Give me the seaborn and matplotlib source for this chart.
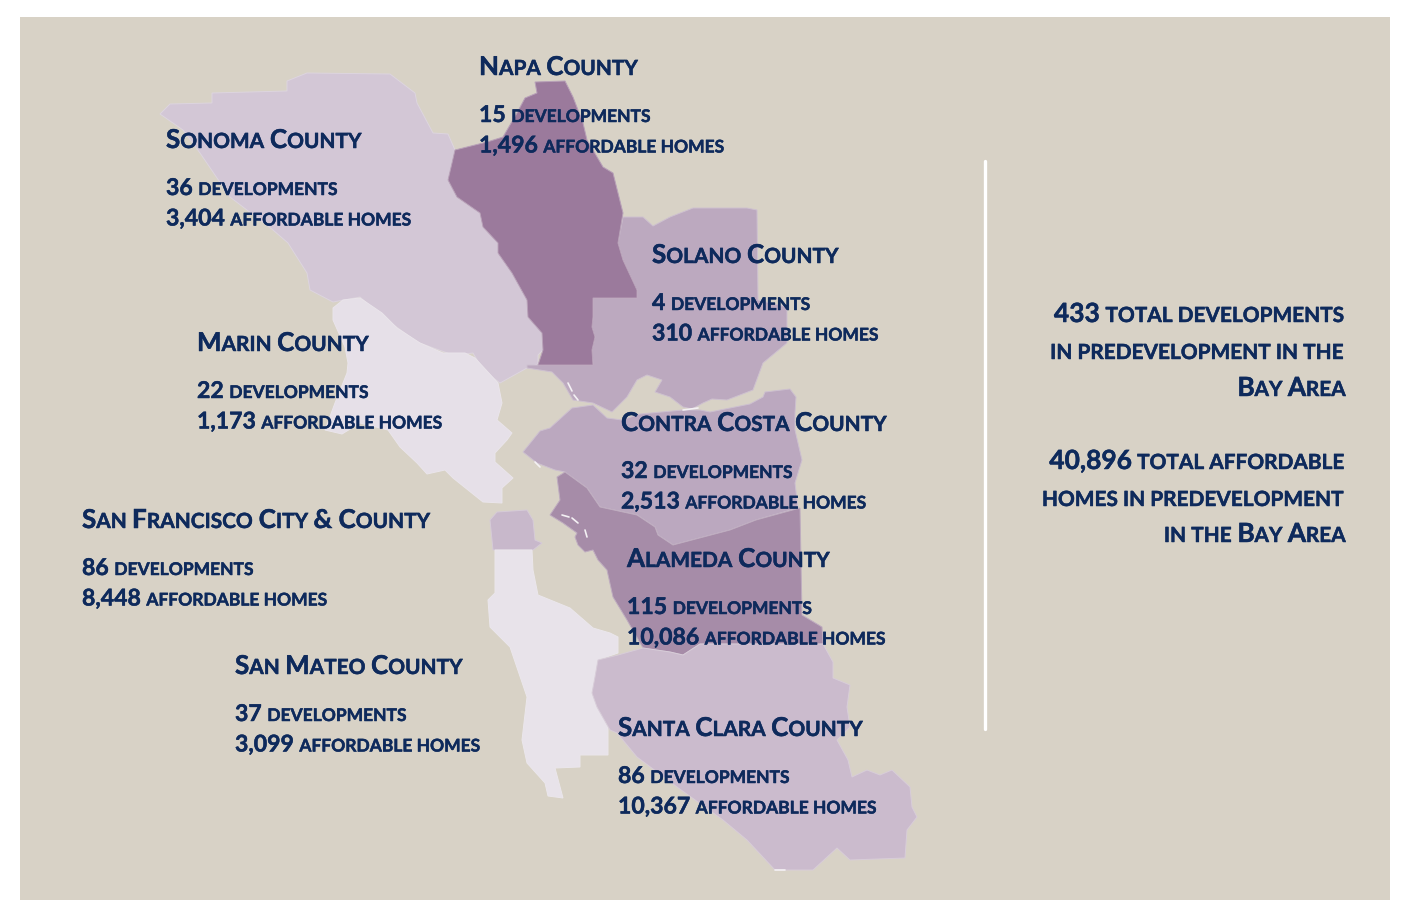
import matplotlib
matplotlib.use("Agg")
import matplotlib.pyplot as plt
import matplotlib.patheffects as pe
import seaborn as sns
import pandas as pd

# county numbers
counties = ["Napa County", "Sonoma County", "Solano County", "Marin County", "Contra Costa County",
            "San Francisco City & County", "Alameda County", "San Mateo County", "Santa Clara County"]
developments = ["15", "36", "4", "22", "32", "86", "115", "37", "86"]
homes = ["1,496", "3,404", "310", "1,173", "2,513", "8,448", "10,086", "3,099", "10,367"]

summary_lines = ["433 total developments", "in predevelopment in the", "Bay Area",
                 "40,896 total affordable", "homes in predevelopment", "in the Bay Area"]

# county outlines in pixels
sonoma = [(160,114),(170,104),(212,103),(212,93),(287,91),(287,81),(307,73),(390,74),(415,93),(417,103),
          (433,133),(448,134),(455,150),(452,163),(448,180),(457,197),(480,213),(483,227),(498,243),(498,253),
          (512,273),(527,300),(528,317),(542,333),(543,350),(538,355),(538,364),(527,368),(500,383),(483,370),
          (473,353),(453,355),(417,342),(383,317),(360,297),(333,302),(310,290),(307,273),(288,243),(273,230),
          (230,197),(200,153),(183,130)]
napa = [(535,82),(565,81),(573,97),(583,123),(587,140),(603,167),(613,173),(623,213),(618,243),(623,260),
        (637,290),(637,298),(593,298),(593,317),(592,327),(595,337),(592,350),(593,365),(538,365),(543,350),
        (542,333),(528,317),(527,300),(512,273),(498,253),(498,243),(483,227),(480,213),(457,197),(448,180),
        (452,163),(455,150),(487,142),(503,137),(517,113),(525,98),(537,93)]
solano = [(623,217),(643,217),(653,226),(670,217),(693,208),(747,208),(757,210),(758,300),(787,307),(787,343),
          (763,363),(753,390),(727,400),(712,399),(703,403),(692,409),(683,407),(670,397),(655,392),(662,380),
          (647,375),(637,380),(627,397),(612,412),(593,403),(573,400),(563,383),(552,372),(527,368),(527,365),
          (593,365),(592,350),(595,337),(592,327),(593,317),(593,298),(637,298),(637,290),(623,260),(618,243)]
marin = [(333,308),(343,300),(360,298),(382,313),(397,328),(420,343),(443,353),(465,353),(475,358),(498,383),
         (502,403),(497,420),(512,433),(507,440),(495,453),(495,462),(513,478),(502,488),(502,503),(483,502),
         (453,478),(445,470),(427,474),(417,463),(400,447),(388,430),(360,423),(342,434),(325,430),(335,403),
         (347,373),(348,363),(345,347),(333,320)]
contra_costa = [(523,452),(540,431),(550,428),(572,408),(593,405),(607,418),(622,420),(640,414),(683,410),(700,410),
                (710,412),(730,408),(750,404),(763,397),(765,392),(790,389),(796,397),(795,413),(795,430),(802,460),
                (795,483),(798,508),(756,520),(730,530),(673,545),(658,535),(655,527),(637,515),(600,507),(587,488),
                (565,472),(555,470),(537,463)]
alameda = [(565,472),(587,488),(600,507),(637,515),(655,527),(658,535),(673,545),(730,530),(756,520),(800,508),
           (802,615),(822,627),(823,644),(700,644),(683,655),(670,652),(643,648),(627,620),(613,597),(607,570),
           (598,560),(593,550),(585,552),(578,545),(575,537),(577,533),(563,523),(550,515),(560,500),(557,477)]
san_francisco = [(490,520),(497,512),(527,510),(533,520),(535,540),(542,543),(533,550),(493,550)]
san_mateo = [(495,550),(532,550),(533,570),(538,595),(570,608),(593,628),(610,633),(618,637),(618,653),(598,660),
             (595,677),(592,693),(608,727),(608,755),(580,755),(580,767),(555,768),(563,798),(548,796),(545,783),
             (527,763),(522,740),(527,697),(510,647),(490,627),(488,600),(495,593)]
santa_clara = [(598,660),(618,655),(643,648),(670,652),(683,655),(700,644),(823,644),(833,662),(833,678),(850,685),
               (847,707),(850,727),(837,740),(848,760),(852,777),(867,770),(880,775),(892,770),(910,787),(912,807),
               (917,817),(907,830),(905,858),(850,860),(837,848),(813,870),(775,870),(747,840),(723,820),(677,787),
               (637,757),(617,733),(610,730),(597,707),(592,693),(595,677)]

# little white slivers in the scanned map
slivers = [[(568,383),(572,391)], [(574,395),(578,400)], [(683,410),(698,408)], [(535,462),(540,467)],
           [(562,515),(569,517)], [(572,518),(578,523)], [(585,530),(587,537)], [(775,870),(785,870)]]

shapes = [(sonoma, "#d3c7d6"), (solano, "#bca9bf"), (napa, "#9b7a9c"), (marin, "#e6e0e8"),
          (contra_costa, "#bba8bf"), (alameda, "#a68ca8"), (san_francisco, "#c8b8cb"),
          (san_mateo, "#e8e3ea"), (santa_clara, "#cbbbcd")]

# left edge and title baseline of each county block
block_x = [479, 166, 652, 197, 621, 82, 627, 235, 618]
block_y = [75, 148, 263, 351, 431, 528, 567, 674, 736]
summary_y = [322, 359, 396, 469, 506, 542]

NAVY = "#0e2a5c"
FONT = "Lato"
TITLE = (18.7, 15.0)
LINE = (16.6, 12.55)
SUMMARY = (19.0, 15.0)

sns.set_theme(style="white")
plt.rcParams["font.family"] = [FONT, "DejaVu Sans"]
plt.rcParams["text.hinting"] = "no_hinting"
plt.rcParams["text.hinting_factor"] = 1

fig = plt.figure(figsize=(14.02, 9.2), dpi=100, facecolor="white")
ax = fig.add_axes([0, 0, 1, 1])
ax.set_xlim(0, 1402)
ax.set_ylim(919, -1)
ax.axis("off")
ax.add_patch(plt.Rectangle((20, 17), 1370, 883, color="#d8d2c6", lw=0, zorder=0))

# Lato bold is lighter than the original face, thicken it a little
heavier = [pe.withStroke(linewidth=0.35, foreground=NAVY)]


def measure(text, size):
    # the bar keeps trailing spaces in the measured width
    t = ax.text(0, 0, text + "|", fontsize=size, fontweight="bold")
    bar = ax.text(0, 0, "|", fontsize=size, fontweight="bold")
    r = fig.canvas.get_renderer()
    w = t.get_window_extent(r).width - bar.get_window_extent(r).width
    t.remove()
    bar.remove()
    return w


def split_runs(text):
    # fake small caps: lower case goes up a case at the smaller size
    runs = []
    for ch in text:
        small = ch.islower() or (ch == " " and runs and runs[-1][1])
        if runs and runs[-1][1] == small:
            runs[-1][0] += ch
        else:
            runs.append([ch, small])
    return runs


def small_caps(x, y, text, sizes, right=False):
    runs = [(r.upper(), sizes[1] if s else sizes[0]) for r, s in split_runs(text)]
    widths = [measure(r, s) for r, s in runs]
    if right:
        x = x - sum(widths)
    for (r, s), w in zip(runs, widths):
        ax.text(x, y, r, fontsize=s, fontweight="bold", color=NAVY, va="baseline", ha="left",
                zorder=5, path_effects=heavier)
        x += w


for pts, col in shapes:
    xs, ys = zip(*pts)
    ax.fill(xs, ys, facecolor=col, edgecolor=sns.light_palette(col, 4)[2], lw=0.7, zorder=2)

for pts in slivers:
    df = pd.DataFrame(pts, columns=["x", "y"])
    sns.lineplot(data=df, x="x", y="y", sort=False, color="#f4f1f4", lw=1.2, ax=ax, zorder=3, estimator=None)

divider = pd.DataFrame({"x": [985, 985], "y": [161, 729]})
sns.lineplot(data=divider, x="x", y="y", sort=False, color="white", lw=2.4, ax=ax, zorder=3, estimator=None)

for name, dev, home, x, y in zip(counties, developments, homes, block_x, block_y):
    small_caps(x, y, name, TITLE)
    small_caps(x, y + 47, dev + " developments", LINE)
    small_caps(x, y + 77.5, home + " affordable homes", LINE)

for line, y in zip(summary_lines, summary_y):
    small_caps(1346, y, line, SUMMARY, right=True)

ax.set_xlabel("")
ax.set_ylabel("")
fig.savefig("out.png", dpi=100, facecolor="white")
